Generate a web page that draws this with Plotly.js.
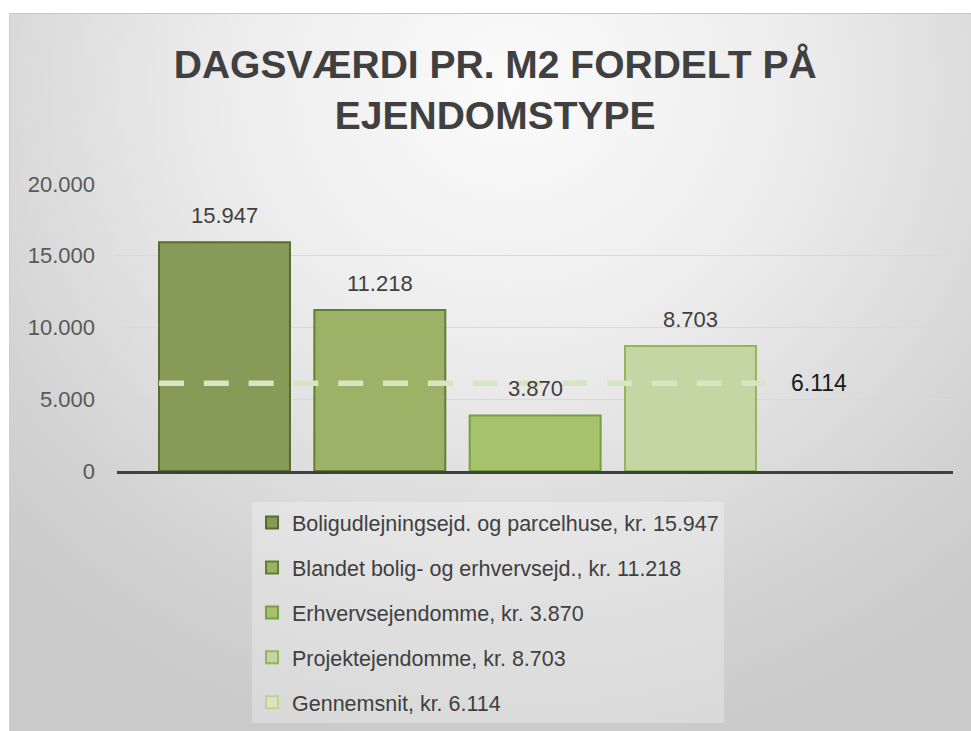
<!DOCTYPE html>
<html><head><meta charset="utf-8">
<script src="https://cdn.plot.ly/plotly-3.0.1.min.js"></script>
<style>
html,body{margin:0;padding:0;background:#fff;width:971px;height:731px;overflow:hidden}
#bg{position:absolute;left:9px;top:13px;width:962px;height:718px;box-sizing:border-box;
background:radial-gradient(ellipse 75% 95% at 52% 10%, #fbfbfb 0%, #ececec 40%, #d3d3d3 80%, #cacaca 100%);
border-top:1px solid #c6c6c6;border-left:1px solid #d0d0d0}
#chart{position:absolute;left:0;top:0;width:971px;height:731px}
</style></head><body><div id="bg"></div><div id="chart"></div>
<script>
// ---- data ----
const categories = ['Boligudlejningsejd. og parcelhuse', 'Blandet bolig- og erhvervsejd.', 'Erhvervsejendomme', 'Projektejendomme'];
const values = [15947, 11218, 3870, 8703];
const averageName = 'Gennemsnit';
const averageValue = 6114;
const yTickValues = [0, 5000, 10000, 15000, 20000];
const yTickLabels = ['0', '5.000', '10.000', '15.000', '20.000'];
const titleText = 'DAGSVÆRDI PR. M2 FORDELT PÅ<br>EJENDOMSTYPE';

// ---- styles ----
const fillColors = ['#879b59', '#9cb267', '#a6c26c', '#c3d6a4'];
const edgeColors = ['#566b2c', '#637e31', '#74a23a', '#90b85a'];
const avgColor = '#d8e5c2';
const avgEdge = '#b9d596';
const FONT = 'Liberation Sans, Arial, sans-serif';
const barWidth = 0.843;

const fmt = v => String(v).replace(/\B(?=(\d{3})+(?!\d))/g, '.');

const traces = values.map((v, i) => ({
  type: 'bar', x: [i], y: [v], width: [barWidth],
  name: categories[i] + ', kr. ' + fmt(v),
  legendgroup: 'g' + i,
  marker: {color: fillColors[i], line: {color: edgeColors[i], width: 2}},
  hoverinfo: 'y'
}));
traces.push({
  type: 'bar', x: [null], y: [null], name: averageName + ', kr. ' + fmt(averageValue),
  legendgroup: 'avg', marker: {color: avgColor, line: {color: avgEdge, width: 2}}, hoverinfo: 'skip'
});
const avgStart = 0 - barWidth / 2;
const avgEnd = (values.length - 1) + barWidth / 2 + 0.06;
traces.push({
  type: 'scatter', mode: 'lines', x: [avgStart, avgEnd], y: [averageValue, averageValue],
  line: {color: avgColor, width: 5.5, dash: '25px,19.8px'},
  showlegend: false, legendgroup: 'avg', hoverinfo: 'y'
});

const annotations = values.map((v, i) => ({
  x: i, y: v, xref: 'x', yref: 'y', text: fmt(v), showarrow: false,
  yanchor: 'middle', xanchor: 'center', yshift: 27,
  font: {family: FONT, size: 22, color: '#404040'}
}));
annotations.push({
  x: avgEnd, y: averageValue, xref: 'x', yref: 'y', text: fmt(averageValue), showarrow: false,
  xanchor: 'left', yanchor: 'middle', xshift: 24,
  font: {family: FONT, size: 23, color: '#1a1a1a'}
});

const layout = {
  width: 971, height: 731,
  margin: {l: 117, r: 18, t: 184, b: 260, pad: 0},
  paper_bgcolor: 'rgba(0,0,0,0)', plot_bgcolor: 'rgba(0,0,0,0)',
  barmode: 'overlay',
  title: {text: titleText, x: 0.51, xanchor: 'center', y: 0.893, yanchor: 'top', yref: 'container',
    font: {family: FONT, size: 39, color: '#404040', weight: 'bold'}},
  xaxis: {range: [-0.692, 4.69], showgrid: false, showticklabels: false, zeroline: false,
    showline: true, linecolor: '#404040', linewidth: 3, ticks: '', fixedrange: true},
  yaxis: {range: [0, 20000], tickvals: yTickValues, ticktext: yTickLabels, showgrid: true,
    gridcolor: '#d9d9d9', gridwidth: 1, zeroline: false, showline: false, ticks: '',
    ticklabelstandoff: 21, tickfont: {family: FONT, size: 22, color: '#595959'}, fixedrange: true},
  legend: {x: 0.1615, xref: 'paper', y: 1 - 502 / 731, yref: 'container', xanchor: 'left', yanchor: 'top',
    bgcolor: 'rgba(255,255,255,0.28)',
    borderwidth: 0, tracegroupgap: 14, font: {family: FONT, size: 21.5, color: '#404040'}},
  annotations: annotations,
  showlegend: true
};

Plotly.newPlot('chart', traces, layout, {displayModeBar: false, responsive: false});
</script></body></html>
